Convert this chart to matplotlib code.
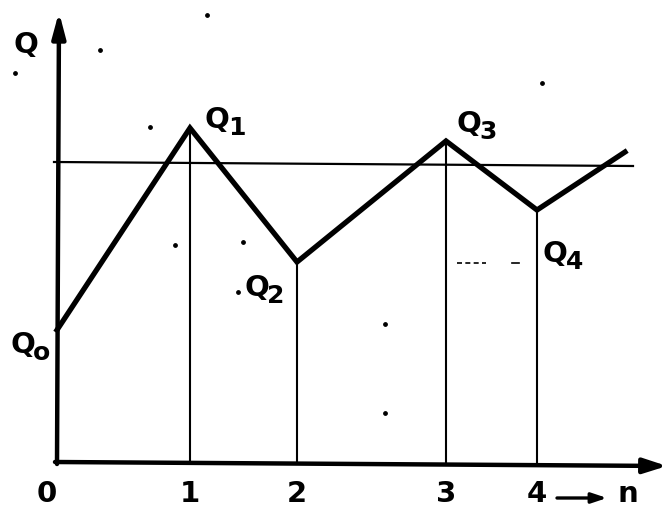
import matplotlib
matplotlib.use("Agg")
import matplotlib.pyplot as plt

# stage positions along n (drawing units) and the Q value reached at each stage
n_pos = [0, 133, 240, 389, 480, 568]
q_val = [132, 334, 200, 321, 252, 310]
tick_labels = ["0", "1", "2", "3", "4"]
q_subs = ["o", "1", "2", "3", "4"]
q_limit = 300

# stray specks on the sheet
speck_x = [-42, 43, 150, 93, 118, 186, 181, 328, 328, 485]
speck_y = [389, 412, 447, 335, 217, 220, 170, 138, 49, 379]

fig = plt.figure(figsize=(6.71, 5.07), dpi=100)
ax = fig.add_axes([0, 0, 1, 1])
ax.set_xlim(-57, 614)
ax.set_ylim(-45, 462)
ax.axis("off")

# axes with arrows
ax.annotate("", xy=(2, 450), xytext=(0, -2),
            arrowprops=dict(arrowstyle="-|>,head_length=1.5,head_width=0.4",
                            lw=3.2, color="black", shrinkA=0, shrinkB=0))
ax.annotate("", xy=(610, -4), xytext=(-2, 0),
            arrowprops=dict(arrowstyle="-|>,head_length=1.4,head_width=0.45",
                            lw=3.2, color="black", shrinkA=0, shrinkB=0))

# limit line
ax.plot([-3, 576], [q_limit, q_limit - 4], color="black", lw=1.6)

# vertical drops from each stage
for x, q in zip(n_pos[1:5], q_val[1:5]):
    ax.plot([x, x], [0, q], color="black", lw=1.5)

# Q trajectory
ax.plot(n_pos, q_val, color="black", lw=3.8, solid_joinstyle="miter")

ax.scatter(speck_x, speck_y, s=6, color="black")
ax.plot([400, 429], [199, 199], color="black", lw=1.2, ls=(0, (3, 2)))
ax.plot([455, 462], [199, 199], color="black", lw=1.2)

fs = 21
style = dict(fontsize=fs, fontweight="bold", ha="left", va="center")


def q_label(x, y, sub):
    # Q with a lowered, slightly smaller index
    ax.text(x, y, "Q", **style)
    ax.text(x + 23, y - 8, sub, **{**style, "fontsize": fs - 3})


ax.text(-44, 417, "Q", **style)
q_label(-47, 117, q_subs[0])
q_label(148, 342, q_subs[1])
q_label(187, 174, q_subs[2])
q_label(399, 338, q_subs[3])
q_label(486, 208, q_subs[4])

for x, lab in zip(n_pos[:5], tick_labels):
    ax.text(x - 10 if lab == "0" else x, -32, lab, **{**style, "ha": "center"})
ax.annotate("", xy=(550, -36), xytext=(500, -36),
            arrowprops=dict(arrowstyle="-|>,head_length=0.9,head_width=0.3",
                            lw=2.4, color="black", shrinkA=0, shrinkB=0))
ax.text(561, -32, "n", **style)

fig.savefig("out.png", dpi=100)
